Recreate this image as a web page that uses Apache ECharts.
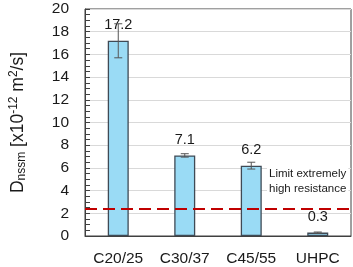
<!DOCTYPE html>
<html>
<head>
<meta charset="utf-8">
<script src="https://cdn.jsdelivr.net/npm/echarts@6/dist/echarts.min.js"></script>
<style>html,body{margin:0;padding:0;background:#fff;}#c{width:353px;height:267px;}</style>
</head>
<body>
<div id="c"></div>
<script>
var categories = ['C20/25', 'C30/37', 'C45/55', 'UHPC'];
var values = [17.2, 7.1, 6.2, 0.3];
var errors = [1.5, 0.15, 0.3, 0.05];
var limitValue = 2.4;
var limitText = 'Limit extremely\nhigh resistance';

var FONT = '"Liberation Sans", Arial, sans-serif';
var chart = echarts.init(document.getElementById('c'));
chart.setOption({
  animation: false,
  backgroundColor: '#fff',
  textStyle: { fontFamily: FONT },
  grid: { left: 77, right: 2, top: 9, bottom: 31, show: true, borderColor: '#404040', borderWidth: 1, containLabel: false },
  xAxis: {
    type: 'category', data: categories,
    axisLine: { show: true, lineStyle: { color: '#404040', width: 1 } },
    axisTick: { show: false },
    axisLabel: { fontSize: 15.5, color: '#1a1a1a', margin: 15, fontFamily: FONT }
  },
  yAxis: {
    type: 'value', min: 0, max: 20, interval: 2,
    name: '{m|D}{sub|nssm}{m| [x10}{sup|-12}{m| m}{sup|2}{m|/s]}',
    nameLocation: 'middle', nameGap: 57, nameRotate: 90,
    nameTextStyle: {
      rich: {
        m: { fontSize: 17.5, color: '#1a1a1a', fontFamily: FONT },
        sub: { fontSize: 12, color: '#1a1a1a', fontFamily: FONT, verticalAlign: 'bottom', padding: [8, 0, 0, 0] },
        sup: { fontSize: 12, color: '#1a1a1a', fontFamily: FONT, verticalAlign: 'top', padding: [0, 0, 8, 0] }
      }
    },
    axisLine: { show: true, lineStyle: { color: '#404040', width: 1 } },
    axisTick: { show: true, inside: true, length: 5, lineStyle: { color: '#404040' } },
    minorTick: { show: true, splitNumber: 4, length: 5, lineStyle: { color: '#404040' } },
    splitLine: { show: true, lineStyle: { color: '#d9d9d9', width: 1 } },
    axisLabel: { fontSize: 15.5, color: '#1a1a1a', margin: 16, fontFamily: FONT }
  },
  series: [
    {
      type: 'bar', data: values, barWidth: 21,
      itemStyle: { color: '#9ADBF5', borderColor: '#3f4a55', borderWidth: 1.3 },
      label: { show: true, position: 'top', distance: 8, fontSize: 14.5, color: '#1a1a1a', fontFamily: FONT },
      markLine: {
        silent: true, symbol: 'none',
        label: { show: false },
        lineStyle: { color: '#c00000', width: 2, type: [12, 6] },
        data: [{ yAxis: limitValue }]
      },
      z: 2
    },
    {
      type: 'custom',
      data: categories.map(function (c, i) { return [i, values[i], errors[i]]; }),
      renderItem: function (params, api) {
        var x = api.value(0), v = api.value(1), e = api.value(2);
        var hi = api.coord([x, v + e]);
        var lo = api.coord([x, v - e]);
        var w = 4;
        var st = { stroke: '#555', lineWidth: 1 };
        return { type: 'group', children: [
          { type: 'line', shape: { x1: hi[0], y1: hi[1], x2: lo[0], y2: lo[1] }, style: st },
          { type: 'line', shape: { x1: hi[0] - w, y1: hi[1], x2: hi[0] + w, y2: hi[1] }, style: st },
          { type: 'line', shape: { x1: lo[0] - w, y1: lo[1], x2: lo[0] + w, y2: lo[1] }, style: st }
        ] };
      },
      z: 5
    }
  ],
  graphic: [{
    type: 'text', left: 267, top: 165, z: 10,
    style: { text: limitText, fontSize: 11.5, lineHeight: 14.5, fill: '#1a1a1a', fontFamily: FONT,
             backgroundColor: '#fff', padding: [2, 2, 2, 2] }
  }]
});
</script>
</body>
</html>
